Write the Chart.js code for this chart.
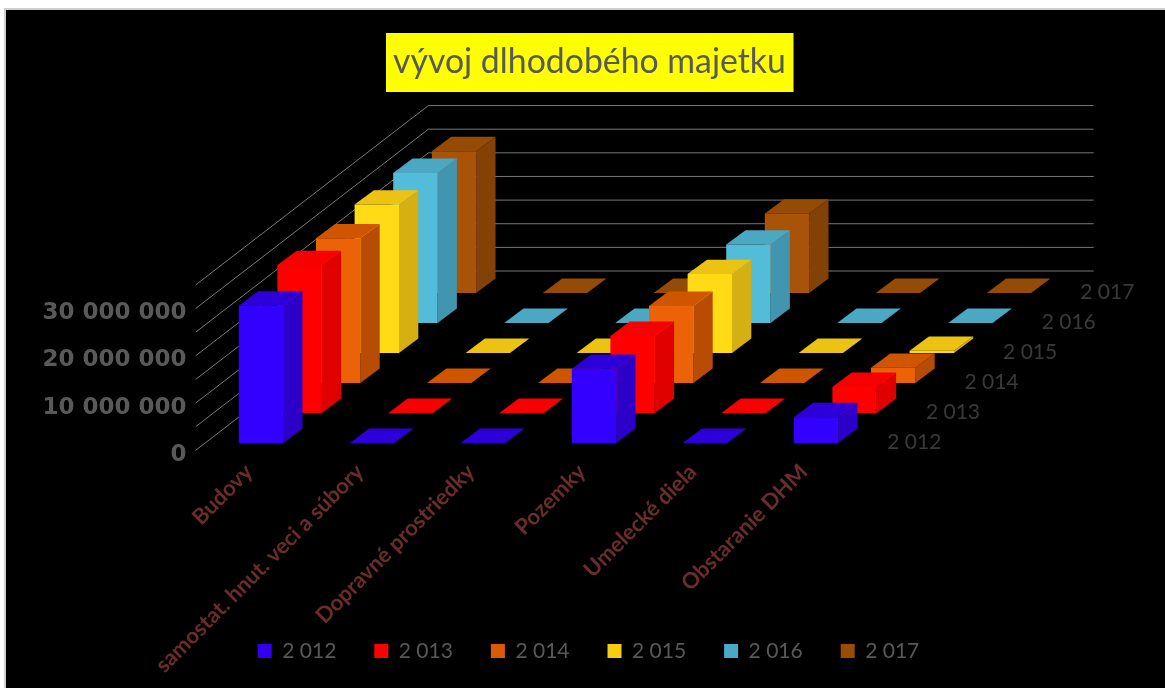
<!DOCTYPE html>
<html>
<head>
<meta charset="utf-8">
<style>
html,body{margin:0;padding:0;background:#fff;}
#wrap{width:1165px;height:688px;position:relative;}
</style>
<script src="https://cdn.jsdelivr.net/npm/chart.js@4/dist/chart.umd.min.js"></script>
</head>
<body>
<div id="wrap"><canvas id="c" width="1165" height="688"></canvas></div>
<script>
const categories = ["Budovy","samostat. hnut. veci a súbory","Dopravné prostriedky","Pozemky","Umelecké diela","Obstaranie DHM"];
const years = ["2 012","2 013","2 014","2 015","2 016","2 017"];
const s2012 = [29060000,0,0,15700000,0,5450000];
const s2013 = [31300000,0,0,16300000,0,5500000];
const s2014 = [30600000,0,0,16300000,0,3200000];
const s2015 = [31400000,0,0,16700000,0,450000];
const s2016 = [31750000,0,0,16600000,0,0];
const s2017 = [30000000,0,0,16800000,0,0];
const seriesValues = [s2012,s2013,s2014,s2015,s2016,s2017];
const yTickStep = 5000000;
const yMax = 35000000;
const frontColors = ["#3300ff","#ff0000","#ec6207","#ffdb15","#52bcd9","#a85307"];
const topColors   = ["#2d00d9","#f70000","#cf5500","#ecc313","#4aa8c3","#954a06"];
const sideColors  = ["#2c00c8","#e00000","#b84c04","#d4b012","#4295ae","#844105"];
const legendColors= ["#3300ee","#ff0000","#d95b05","#f5cd13","#49a9c7","#9b4d06"];

const SERIES_DX = 38.6, SERIES_DY = 30;
const BAR_DX = 19.3, BAR_DY = 14.4;

const scene = {
  id:"scene",
  beforeDraw(chart){
    const c = chart.ctx;
    c.save();
    c.fillStyle="#fff"; c.fillRect(0,0,chart.width,chart.height);
    c.fillStyle="#cfcfcf"; c.fillRect(4,8,chart.width-4,chart.height-8);
    c.fillStyle="#000"; c.fillRect(6,10,chart.width-6,chart.height-10);
    c.fillStyle="#ffff00"; c.fillRect(386,33,407.5,59);
    c.restore();
  },
  afterLayout(chart){
    const t = chart.titleBlock, l = chart.legend;
    t.left = 14; t.right = 1165;
    l.left = 12; l.right = 1165; l.top = 602.5;
    chart.scales.x.bottom = chart.height;
  },
  beforeDatasetsDraw(chart){
    const c = chart.ctx, y = chart.scales.y;
    c.save();
    c.strokeStyle="#787878"; c.lineWidth=1;
    y.ticks.forEach(t=>{
      const py = y.getPixelForValue(t.value);
      c.beginPath();
      c.moveTo(195.7, py+7.3);
      c.lineTo(428.4, py-172);
      c.lineTo(1093.7, py-172);
      c.stroke();
    });
    c.restore();
  },
  beforeDatasetDraw(chart,args){
    const c = chart.ctx, i = args.index;
    c.save();
    c.translate(i*SERIES_DX,-i*SERIES_DY);
    args.meta.data.forEach(b=>{
      const x0=b.x-b.width/2, x1=b.x+b.width/2;
      c.fillStyle=sideColors[i];
      c.beginPath();
      c.moveTo(x1,b.base); c.lineTo(x1+BAR_DX,b.base-BAR_DY);
      c.lineTo(x1+BAR_DX,b.y-BAR_DY); c.lineTo(x1,b.y); c.closePath(); c.fill();
      c.fillStyle=topColors[i];
      c.beginPath();
      c.moveTo(x0,b.y); c.lineTo(x1,b.y);
      c.lineTo(x1+BAR_DX,b.y-BAR_DY); c.lineTo(x0+BAR_DX,b.y-BAR_DY); c.closePath(); c.fill();
    });
  },
  afterDatasetDraw(chart){ chart.ctx.restore(); },
  afterDatasetsDraw(chart){
    const c = chart.ctx, x = chart.scales.x, y = chart.scales.y;
    const px = x.getPixelForValue(categories.length-1), py = y.getPixelForValue(0);
    c.save();
    c.font="21px Lato"; c.fillStyle="#3a3a3a"; c.textAlign="left"; c.textBaseline="middle";
    years.forEach((lab,i)=>c.fillText(lab,px+71.3+i*SERIES_DX,py-0.5-i*SERIES_DY));
    c.restore();
  }
};

new Chart(document.getElementById("c"),{
  type:"bar",
  data:{
    labels:categories,
    datasets:years.map((lab,i)=>({
      label:lab,
      data:seriesValues[i],
      backgroundColor:frontColors[i],
      borderWidth:0,
      grouped:false,
      categoryPercentage:1,
      barPercentage:0.4,
      clip:false
    }))
  },
  plugins:[scene],
  options:{
    responsive:false,
    animation:false,
    events:[],
    layout:{autoPadding:false,padding:{left:0,right:293.5,top:0,bottom:0}},
    plugins:{
      tooltip:{enabled:false},
      title:{
        display:true,
        text:"vývoj dlhodobého majetku",
        color:"#595959",
        font:{family:"Lato",size:33.8,weight:"normal",lineHeight:1.2},
        padding:{top:41.5,bottom:195.5}
      },
      legend:{
        display:true,
        position:"bottom",
        labels:{
          color:"#595959",
          font:{family:"Lato",size:21},
          boxWidth:14,boxHeight:14,padding:38,
          generateLabels(chart){
            return years.map((lab,i)=>({text:lab,fillStyle:legendColors[i],strokeStyle:legendColors[i],lineWidth:0,fontColor:"#595959",datasetIndex:i}));
          }
        }
      }
    },
    scales:{
      x:{
        grid:{display:false},border:{display:false},
        afterFit(s){s.height=176;},
        ticks:{
          color:"#6b2c2c",
          font:{family:"Lato",size:22,weight:"bold"},
          minRotation:45,maxRotation:45,autoSkip:false,
          padding:8,labelOffset:-12
        }
      },
      y:{
        min:0,max:yMax,
        grid:{display:false},border:{display:false},
        afterFit(s){s.width=205.5;},
        ticks:{
          stepSize:yTickStep,autoSkip:false,
          color:"#595959",
          font:{family:"'DejaVu Sans'",size:23,weight:"bold"},
          padding:11,labelOffset:12,
          callback(v){
            if(v%10000000!==0) return "";
            return v===0?"0":String(v).replace(/\B(?=(\d{3})+$)/g," ");
          }
        }
      }
    }
  }
});
</script>
</body>
</html>
